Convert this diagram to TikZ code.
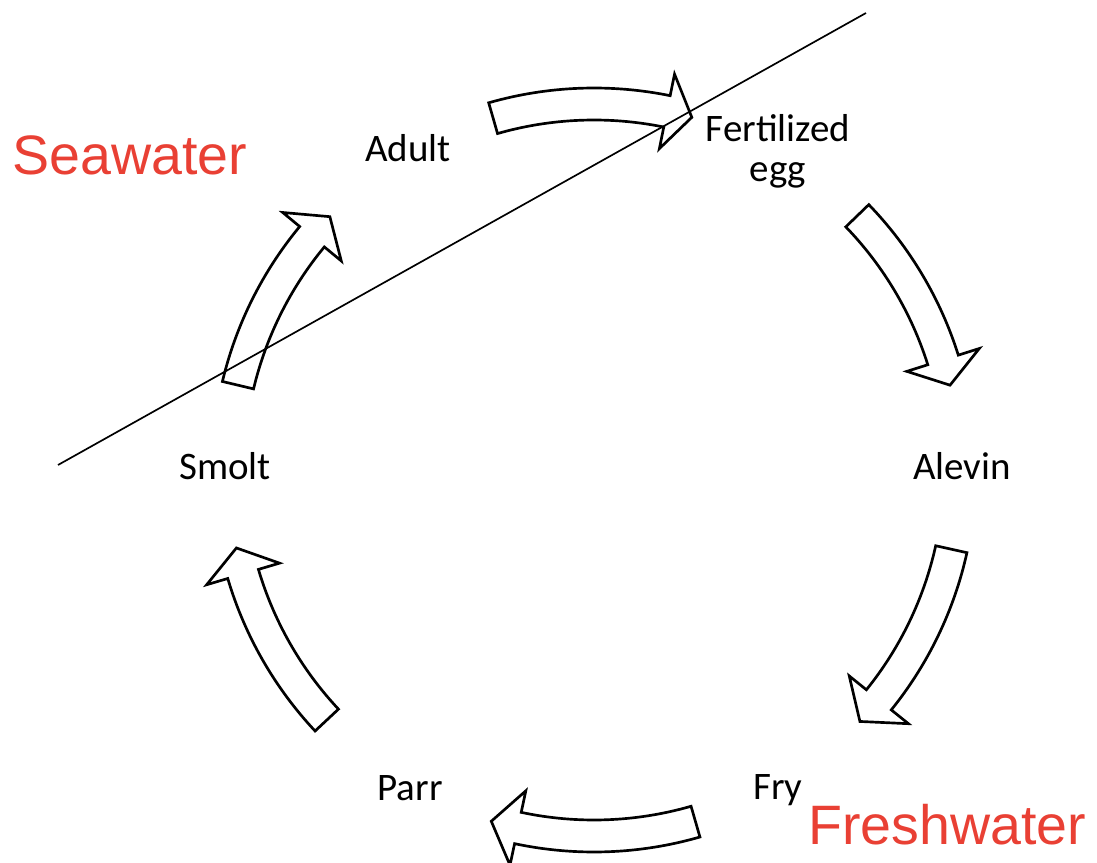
\documentclass[tikz,border=0pt]{standalone}
\usepackage{fontspec}
\usepackage{tikz}
\usetikzlibrary{shadows}
\newfontfamily\stagefont{Carlito}
\newfontfamily\zonefont{Liberation Sans}
\definecolor{zonered}{RGB}{233,64,52}
\tikzset{
    stage/.style={font=\stagefont\fontsize{27.7}{28.5}\selectfont, align=center, inner sep=0pt},
    zone/.style={font=\zonefont\fontsize{39.5}{44}\selectfont, text=zonered, inner sep=0pt},
    lifearrow/.style={draw=black, line width=1.9pt, line join=miter, fill=white,
        drop shadow={opacity=0.18, shadow xshift=0.6pt, shadow yshift=-0.6pt}},
}

\begin{document}
\begin{tikzpicture}[x=0.025cm, y=0.025cm]
    \useasboundingbox (0,0) rectangle (1097,862);
    % curved block arrows round the cycle: tail, head base, tip angle
    \foreach \tail/\base/\tip in {106/78.5/74.5, 44/17.5/13.4, -12.5/-38.9/-43.4,
        -73.9/-102/-106.3, -136.9/-163.5/-167.7, 166.6/140.4/136.2}
        \draw[lifearrow, shift={(594,392)}] (\tail:382) arc (\tail:\base:382) -- (\base:404)
            -- (\tip:366) -- (\base:328) -- (\base:350) arc (\base:\tail:350) -- cycle;
    % sea / fresh water border
    \coordinate (seaW) at (58,397);
    \coordinate (seaE) at (866,849);
    \draw[line width=1.2pt] (seaW) -- (seaE);
    \node[stage, anchor=base] (adult) at (408,700) {Adult};
    \node[stage] (egg) at (778,711) {Fertilized\\egg};
    \node[stage, anchor=base] (alevin) at (962,382) {Alevin};
    \node[stage, anchor=base] (fry) at (778,63) {Fry};
    \node[stage, anchor=base] (parr) at (410,62) {Parr};
    \node[stage, anchor=base] (smolt) at (225,382) {Smolt};
    \node[zone, anchor=base] (sea) at (130,687) {Seawater};
    \node[zone, anchor=base] (fresh) at (947,18) {Freshwater};
\end{tikzpicture}
\end{document}
